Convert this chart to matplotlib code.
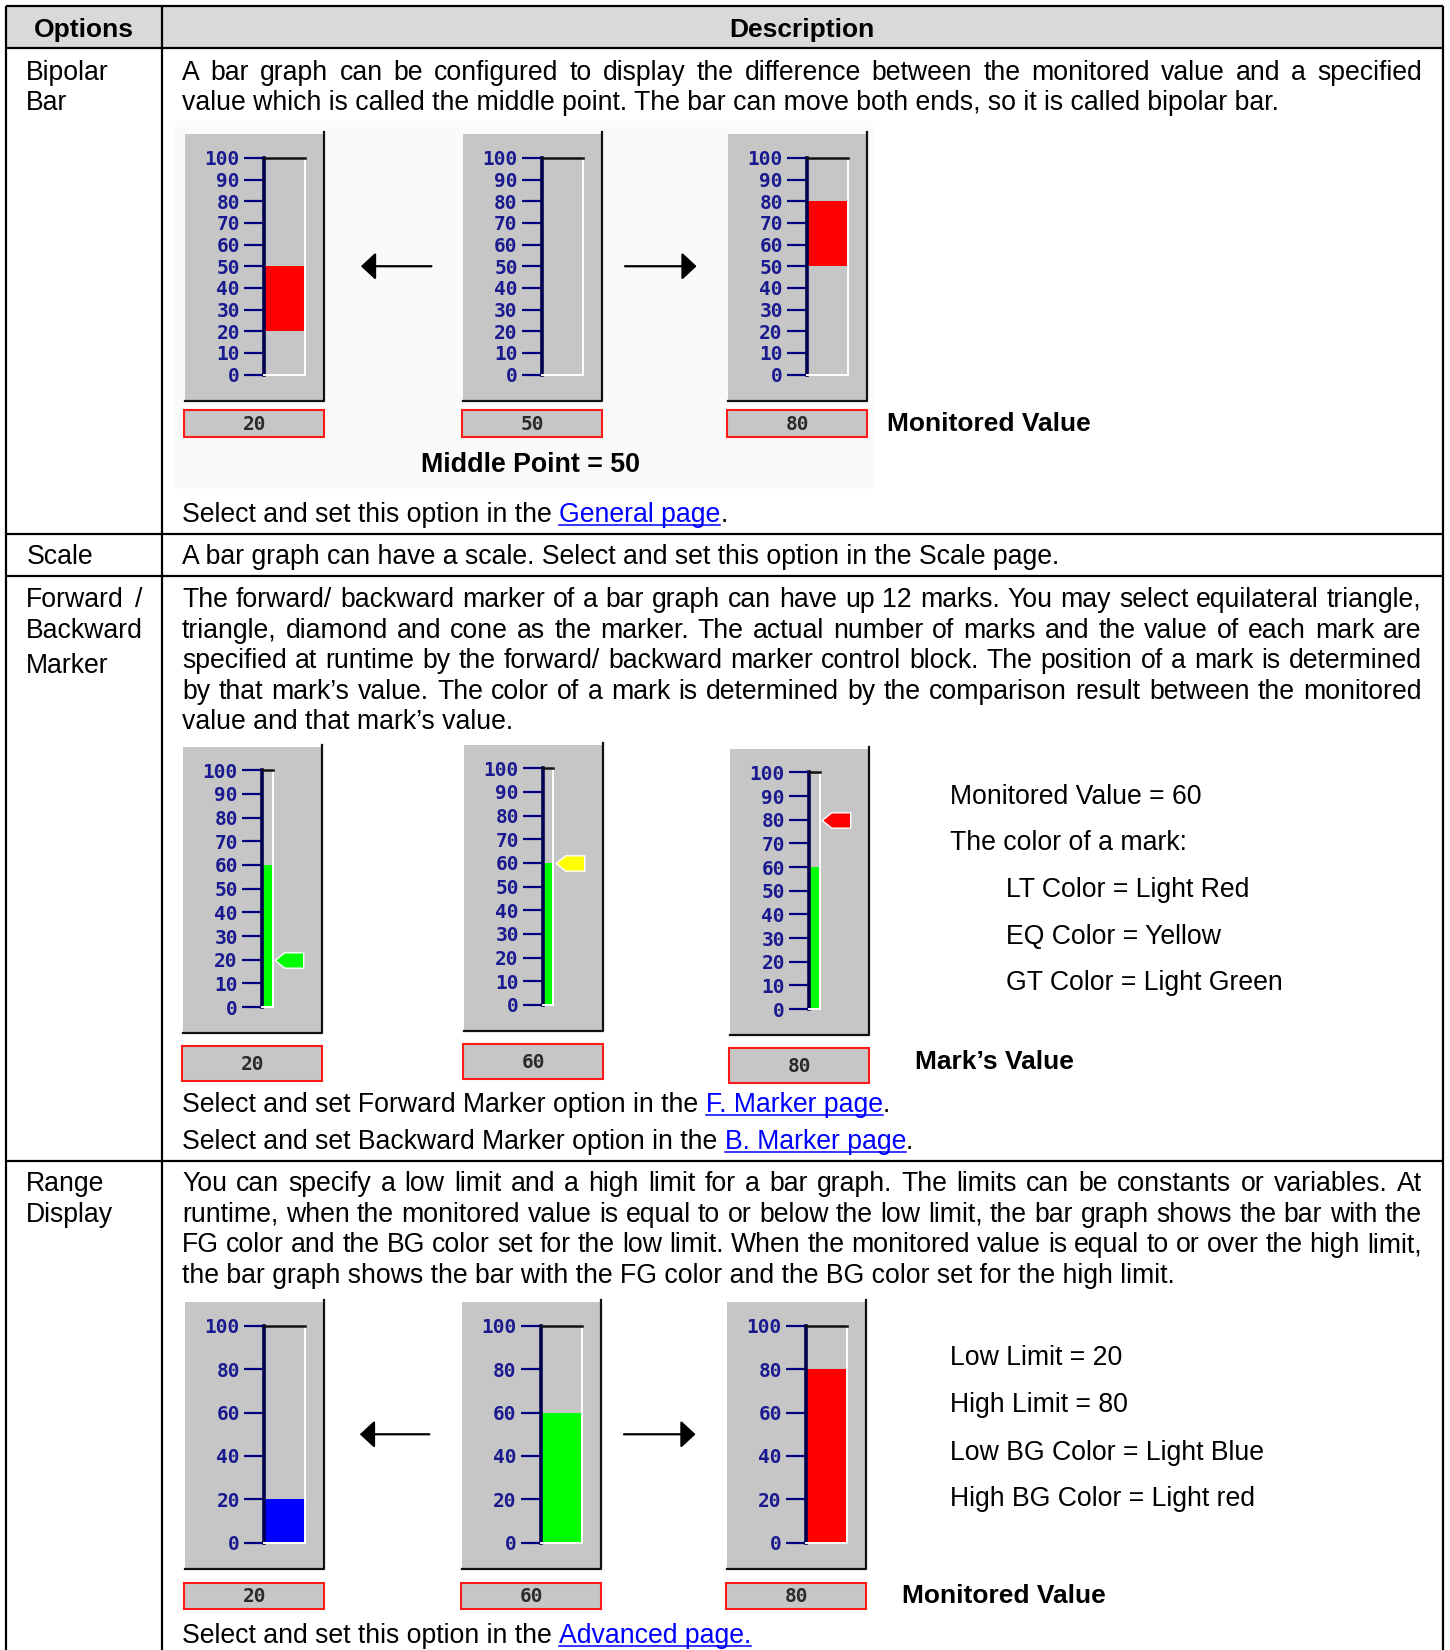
import matplotlib
matplotlib.use('Agg')
import matplotlib.pyplot as plt
from matplotlib.patches import Rectangle
from matplotlib.path import Path

# ---- data ----
bipolar_values = [20, 50, 80]
middle_point = 50
bipolar_ticks = [0, 10, 20, 30, 40, 50, 60, 70, 80, 90, 100]

marker_bar_value = 60
mark_values = [20, 60, 80]
mark_colors = ['#00ff00', '#ffff00', '#ff0000']

range_values = [20, 60, 80]
range_colors = ['#0000ff', '#00ff00', '#ff0000']
range_ticks = [0, 20, 40, 60, 80, 100]

# ---- page setup (work in reference units, 1378 x 1568) ----
W0, H0 = 1378, 1568
PT = 0.72 * 1450 / W0          # reference px -> points
XU = W0 / 1450                 # screen px -> reference units
SANS = 'Liberation Sans'
MONO = 'DejaVu Sans Mono'
GRAY = '#c6c6c6'
NAVY = '#000080'

fig = plt.figure(figsize=(14.5, 16.5), dpi=100)
ax = fig.add_axes([0, 0, 1, 1])
ax.set_xlim(0, W0)
ax.set_ylim(H0, 0)
ax.axis('off')
R = fig.canvas.get_renderer()


def tw(s, **kw):
    t = ax.text(0, 0, s, **kw)
    w = t.get_window_extent(renderer=R).width * XU
    t.remove()
    return w


# calibrate font sizes on known widths
FS = 18.5 * 1044 / tw('value which is called the middle point. The bar can move both ends, so it is called bipolar bar.',
                      family=SANS, size=18.5)
BFS = 18.5 * 194 / tw('Monitored Value', family=SANS, size=18.5, weight='bold')
SP = tw('a a', family=SANS, size=FS) - tw('aa', family=SANS, size=FS)


def style(kind):
    kw = dict(family=SANS, size=FS, color='black')
    if kind == 'b':
        kw.update(weight='bold', size=BFS)
    if kind == 'u':
        kw['color'] = '#0000ff'
    return kw


def runs(x, y, parts):
    for s, kind in parts:
        kw = style(kind)
        ax.text(x, y, s, ha='left', va='baseline', **kw)
        core = s.rstrip(' ')
        w = tw(core, **kw)
        if kind == 'u':
            ax.plot([x, x + w], [y + 3, y + 3], color='#0000ff', lw=1.1)
        x += w + (len(s) - len(core)) * SP


def justify(x0, x1, y, line):
    words = line.split()
    ws = [tw(w, family=SANS, size=FS) for w in words]
    gap = (x1 - x0 - sum(ws)) / (len(words) - 1)
    x = x0
    for w, wd in zip(words, ws):
        ax.text(x, y, w, ha='left', va='baseline', family=SANS, size=FS)
        x += wd + gap


def para(y0, lines, step=29):
    for i, ln in enumerate(lines):
        y = y0 + i * step
        if i < len(lines) - 1:
            justify(173, 1351, y, ln)
        else:
            runs(173, y, [(ln, 'n')])


MARK = Path([(-0.5, 0), (-0.17, 0.27), (0.5, 0.27), (0.5, -0.27), (-0.17, -0.27), (-0.5, 0)],
            [Path.MOVETO, Path.LINETO, Path.LINETO, Path.LINETO, Path.LINETO, Path.CLOSEPOLY])


def gauge(L, T, ticks, lo, hi, fc, label, ph=254, top=23, bot=229, bw=39,
          gap=9, bh=25, mark=None, mcolor=None):
    Rx = L + 132
    B = T + ph
    ax.add_patch(Rectangle((L, T), 132, ph, facecolor=GRAY, edgecolor='none', zorder=2))
    ax.plot([Rx, Rx, L], [T - 2, B, B], color='#111111', lw=1.6, zorder=3)
    sx = L + 75
    g = fig.add_axes([sx / W0, 1 - (T + bot) / H0, bw / W0, (bot - top) / H0])
    g.set_facecolor(GRAY)
    g.bar(0, hi - lo, bottom=lo, width=1, align='edge', color=fc, zorder=1)
    g.set_xlim(0, 1)
    g.set_ylim(0, 100)
    g.set_xticks([])
    g.set_yticks(ticks, labels=[str(t) for t in ticks], family=MONO, weight='bold')
    g.tick_params(axis='y', length=19 * PT, width=1.6, color=NAVY, labelcolor='#1a1a90',
                  labelsize=14, pad=4 * PT)
    g.spines['left'].set(color='#000050', linewidth=2.6)
    g.spines['top'].set(color='#111111', linewidth=1.8)
    g.spines['right'].set(color='white', linewidth=1.4)
    g.spines['bottom'].set(color='white', linewidth=1.4)
    if mark is not None:
        g.plot([1 + 15.5 / bw], [mark], marker=MARK, ms=27 * PT, mfc=mcolor, mec='white',
               mew=1, ls='none', clip_on=False, zorder=5)
    ax.add_patch(Rectangle((L - 1, B + gap), 133, bh, facecolor=GRAY, edgecolor='#ff1a1a',
                           lw=1.5, zorder=2))
    ax.text(L + 66, B + gap + bh / 2 + 1, str(label), ha='center', va='center', family=MONO,
            size=14, weight='bold', color='#2a2a2a', zorder=3)


def arrow(x_from, x_to, y):
    ax.annotate('', xy=(x_to, y), xytext=(x_from, y),
                arrowprops=dict(arrowstyle='-|>,head_length=0.45,head_width=0.42', color='black',
                                lw=1.6, mutation_scale=20, shrinkA=0, shrinkB=0))


# ---- table frame ----
ax.add_patch(Rectangle((6, 6), 1365, 40, facecolor='#d9d9d9', edgecolor='none', zorder=0))
ax.add_patch(Rectangle((166, 115), 664, 350, facecolor='#fafafa', edgecolor='none', zorder=0))
lk = dict(color='black', lw=1.6, solid_capstyle='butt', zorder=4)
ax.plot([6, 1371], [6, 6], **lk)
for yy in [46, 507, 547, 1103]:
    ax.plot([6, 1371], [yy, yy], **lk)
for xx in [6, 154, 1371]:
    ax.plot([xx, xx], [6, H0], **lk)

ax.text(80, 35, 'Options', ha='center', va='baseline', family=SANS, size=BFS, weight='bold')
ax.text(762, 35, 'Description', ha='center', va='baseline', family=SANS, size=BFS, weight='bold')

# ---- row 1: Bipolar Bar ----
runs(25, 76, [('Bipolar', 'n')])
runs(25, 105, [('Bar', 'n')])
para(76, ['A bar graph can be configured to display the difference between the monitored value and a specified',
          'value which is called the middle point. The bar can move both ends, so it is called bipolar bar.'])
for L, v in zip([176, 440, 692], bipolar_values):
    gauge(L, 127, bipolar_ticks, min(v, middle_point), max(v, middle_point), '#ff0000', v)
arrow(410, 343, 253)
arrow(594, 662, 253)
runs(843, 410, [('Monitored Value', 'b')])
mp = 'Middle Point = %d' % middle_point
mfs = 17 * 209 / tw(mp, family=SANS, size=17, weight='bold')
ax.text(400, 449, mp, ha='left', va='baseline', family=SANS, size=mfs, weight='bold')
runs(173, 496, [('Select and set this option in the ', 'n'), ('General page', 'u'), ('.', 'n')])

# ---- row 2: Scale ----
runs(25, 536, [('Scale', 'n')])
runs(173, 536, [('A bar graph can have a scale. Select and set this option in the Scale page.', 'n')])

# ---- row 3: Forward / Backward Marker ----
justify(25, 135, 577, 'Forward /')
runs(25, 606, [('Backward', 'n')])
runs(25, 640, [('Marker', 'n')])
para(577, ['The forward/ backward marker of a bar graph can have up 12 marks. You may select equilateral triangle,',
           'triangle, diamond and cone as the marker. The actual number of marks and the value of each mark are',
           'specified at runtime by the forward/ backward marker control block. The position of a mark is determined',
           'by that mark\u2019s value. The color of a mark is determined by the comparison result between the monitored',
           'value and that mark\u2019s value.'])
for L, T, m, c in zip([174, 441, 694], [710, 708, 712], mark_values, mark_colors):
    gauge(L, T, bipolar_ticks, 0, marker_bar_value, '#00ff00', m, ph=272, top=22, bot=247,
          bw=10, gap=12, bh=33, mark=m, mcolor=c)
runs(903, 764, [('Monitored Value = %d' % marker_bar_value, 'n')])
runs(903, 808, [('The color of a mark:', 'n')])
runs(956, 852, [('LT Color = Light Red', 'n')])
runs(956, 897, [('EQ Color = Yellow', 'n')])
runs(956, 941, [('GT Color = Light Green', 'n')])
runs(870, 1016, [('Mark\u2019s Value', 'b')])
runs(173, 1057, [('Select and set Forward Marker option in the ', 'n'), ('F. Marker page', 'u'), ('.', 'n')])
runs(173, 1092, [('Select and set Backward Marker option in the ', 'n'), ('B. Marker page', 'u'), ('.', 'n')])

# ---- row 4: Range Display ----
runs(25, 1132, [('Range', 'n')])
runs(25, 1161, [('Display', 'n')])
para(1132, ['You can specify a low limit and a high limit for a bar graph. The limits can be constants or variables. At',
            'runtime, when the monitored value is equal to or below the low limit, the bar graph shows the bar with the',
            'FG color and the BG color set for the low limit. When the monitored value is equal to or over the high limit,',
            'the bar graph shows the bar with the FG color and the BG color set for the high limit.'])
for L, v, c in zip([176, 439, 691], range_values, range_colors):
    gauge(L, 1237, range_ticks, 0, v, c, v, gap=13)
arrow(408, 342, 1363)
arrow(593, 661, 1363)
runs(903, 1297, [('Low Limit = 20', 'n')])
runs(903, 1342, [('High Limit = 80', 'n')])
runs(903, 1387, [('Low BG Color = Light Blue', 'n')])
runs(903, 1431, [('High BG Color = Light red', 'n')])
runs(857, 1523, [('Monitored Value', 'b')])
runs(173, 1561, [('Select and set this option in the ', 'n'), ('Advanced page.', 'u')])

fig.savefig('out.png', dpi=100)
